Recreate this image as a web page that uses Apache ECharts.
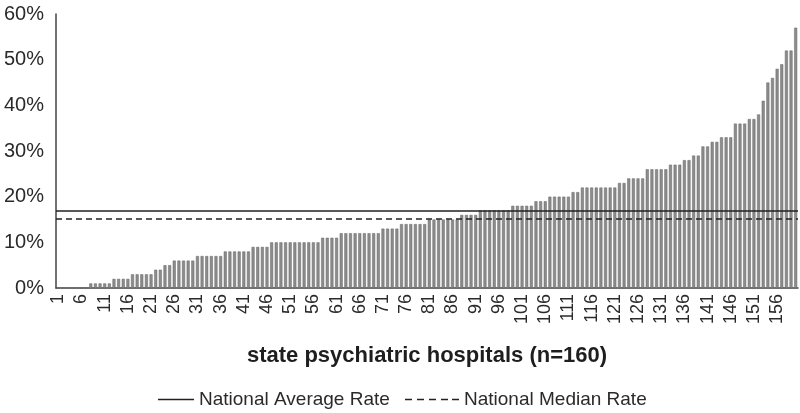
<!DOCTYPE html>
<html><head><meta charset="utf-8">
<script src="https://cdn.jsdelivr.net/npm/echarts@6/dist/echarts.min.js"></script>
<style>html,body{margin:0;padding:0;background:#fff}#c{width:800px;height:413px}</style>
</head><body><div id="c"></div>
<script>
var hospitals = [];
for (var i = 1; i <= 160; i++) hospitals.push(String(i));
var rates = [
 0,0,0,0,0,0,0, 1,1,1,1,1, 2,2,2,2, 3,3,3,3,3, 4,4, 5,5, 6,6,6,6,6,
 7,7,7,7,7,7, 8,8,8,8,8,8, 9,9,9,9, 10,10,10,10,10,10,10,10,10,10,10,
 11,11,11,11, 12,12,12,12,12,12,12,12,12, 13,13,13,13, 14,14,14,14,14,14,
 15,15,15,15,15,15,15, 16,16,16,16, 17,17,17,17,17,17,17, 18,18,18,18,18,
 19,19,19, 20,20,20,20,20, 21,21, 22,22,22,22,22,22,22,22, 23,23,
 24,24,24,24, 26,26,26,26,26, 27,27,27, 28,28, 29,29, 31,31, 32,32,
 33,33,33, 36,36,36, 37,37, 38, 41, 45, 46, 48, 49, 52,52, 57
];
var nationalAverage = 16.9;
var nationalMedian = 15.1;
var yTicks = [0, 10, 20, 30, 40, 50, 60];

var font = 'Liberation Sans, Arial, sans-serif';
var legendText = {fontFamily: font, fontSize: 19, color: '#2a2a2a'};
var chart = echarts.init(document.getElementById('c'));
chart.setOption({
  animation: false,
  grid: {left: 56, right: 2, top: 14, bottom: 125, containLabel: false},
  legend: [
    {left: 153, top: 385, itemWidth: 36, itemHeight: 14, textStyle: legendText,
     data: [{name: 'National Average Rate', icon: 'path://M0,0H36V1.6H0Z'}]},
    {left: 400, top: 385, itemWidth: 54, itemHeight: 14, textStyle: legendText,
     data: [{name: 'National Median Rate',
       icon: 'path://M0,0h7v1.6h-7zM12,0h7v1.6h-7zM24,0h7v1.6h-7zM36,0h7v1.6h-7zM47,0h7v1.6h-7z'}]}
  ],
  xAxis: {
    type: 'category', data: hospitals,
    name: 'state psychiatric hospitals (n=160)', nameLocation: 'middle', nameGap: 57,
    nameTextStyle: {fontFamily: font, fontSize: 22, fontWeight: 'bold', color: '#1e1e1e'},
    axisLine: {lineStyle: {color: '#444', width: 1.5}},
    axisTick: {show: false},
    axisLabel: {interval: 4, rotate: 90, fontFamily: font, fontSize: 18, color: '#2a2a2a', margin: 6}
  },
  yAxis: {
    type: 'value', min: 0, max: 60, interval: 10,
    axisLine: {show: true, lineStyle: {color: '#444', width: 1.5}},
    axisTick: {show: false},
    splitLine: {show: false},
    axisLabel: {fontFamily: font, fontSize: 20, color: '#2a2a2a', margin: 12,
      formatter: function (v) { return yTicks.indexOf(v) >= 0 ? v + '%' : ''; }}
  },
  series: [
    {type: 'bar', data: rates, barCategoryGap: '35%',
     itemStyle: {color: '#8c8c8c', borderColor: '#666', borderWidth: 0.5}},
    {name: 'National Average Rate', type: 'line', data: [], symbol: 'none',
     lineStyle: {color: '#222', width: 1.6}, itemStyle: {color: '#222'},
     markLine: {symbol: 'none', silent: true, label: {show: false},
       lineStyle: {color: '#222', width: 1.6, type: 'solid'},
       data: [{yAxis: nationalAverage}]}},
    {name: 'National Median Rate', type: 'line', data: [], symbol: 'none',
     lineStyle: {color: '#222', width: 1.6}, itemStyle: {color: '#222'},
     markLine: {symbol: 'none', silent: true, label: {show: false},
       lineStyle: {color: '#222', width: 1.6, type: [6, 4]},
       data: [{yAxis: nationalMedian}]}}
  ]
});
</script></body></html>
